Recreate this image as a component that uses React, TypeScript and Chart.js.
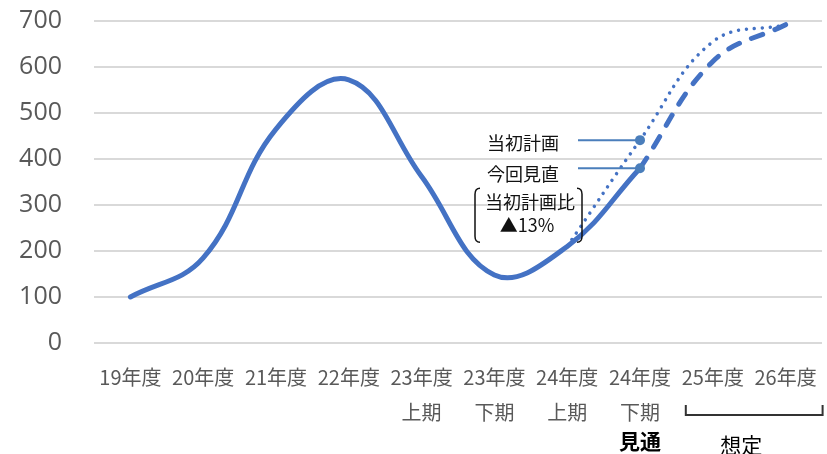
import React, { useEffect, useRef } from 'react';
import { Chart, registerables } from 'chart.js';

Chart.register(...registerables);

const categories: string[][] = [
  ['19年度'], ['20年度'], ['21年度'], ['22年度'],
  ['23年度', '上期'], ['23年度', '下期'], ['24年度', '上期'], ['24年度', '下期'],
  ['25年度'], ['26年度'],
];
const actualValues = [100, 185, 465, 572, 362, 148, 210, 380, null, null];
const revisedValues = [null, null, null, null, null, null, null, 380, 612, 692];
const initialPlanValues = [null, null, null, null, null, null, 210, 441, 655, 692];
const yTickValues = [0, 100, 200, 300, 400, 500, 600, 700];
const leaderLabels = ['当初計画', '今回見直'];
const ratioLabels = ['当初計画比', '▲13%'];
const outlookLabel = '見通';
const assumedLabel = '想定';

const JP = '"Noto Sans CJK JP", "Noto Sans", sans-serif';
const BLUE = '#4472C4';
const LEADER = '#4a7ebb';

const annotationPlugin = {
  id: 'annotations',
  afterDatasetsDraw(chart: any) {
    const { ctx, scales } = chart;
    const xs = scales.x;
    const ys = scales.y;
    const idx = 7;
    const px = xs.getPixelForValue(idx);
    const pPlan = ys.getPixelForValue(initialPlanValues[idx] as number);
    const pRev = ys.getPixelForValue(revisedValues[idx] as number);
    ctx.save();
    [pPlan, pRev].forEach((py) => {
      ctx.strokeStyle = LEADER;
      ctx.lineWidth = 2;
      ctx.beginPath();
      ctx.moveTo(px - 62, py);
      ctx.lineTo(px, py);
      ctx.stroke();
      ctx.fillStyle = LEADER;
      ctx.beginPath();
      ctx.arc(px, py, 5, 0, Math.PI * 2);
      ctx.fill();
    });
    ctx.fillStyle = '#111';
    ctx.font = `18px ${JP}`;
    ctx.textAlign = 'center';
    ctx.textBaseline = 'middle';
    ctx.fillText(leaderLabels[0], px - 117, pPlan + 3);
    ctx.fillText(leaderLabels[1], px - 117, pRev + 6);
    const cx = px - 110;
    const ty = pRev + 34;
    ctx.fillText(ratioLabels[0], cx, ty);
    ctx.fillText(ratioLabels[1], cx - 3, ty + 23);
    ctx.strokeStyle = '#111';
    ctx.lineWidth = 1.5;
    const top = ty - 14;
    const bot = ty + 40;
    const lx = cx - 55;
    const rx = cx + 52;
    ctx.beginPath();
    ctx.moveTo(lx + 5, top);
    ctx.quadraticCurveTo(lx, top, lx, top + 6);
    ctx.lineTo(lx, bot - 6);
    ctx.quadraticCurveTo(lx, bot, lx + 5, bot);
    ctx.moveTo(rx - 5, top);
    ctx.quadraticCurveTo(rx, top, rx, top + 6);
    ctx.lineTo(rx, bot - 6);
    ctx.quadraticCurveTo(rx, bot, rx - 5, bot);
    ctx.stroke();
    const base = chart.chartArea.bottom;
    ctx.fillStyle = '#000';
    ctx.font = `bold 21px ${JP}`;
    ctx.fillText(outlookLabel, px, base + 98);
    const x25 = xs.getPixelForValue(8);
    const x26 = xs.getPixelForValue(9);
    ctx.font = `21px ${JP}`;
    ctx.fillText(assumedLabel, (x25 + x26) / 2 - 8, base + 102);
    ctx.strokeStyle = '#333';
    ctx.lineWidth = 2;
    const bl = x25 - 27;
    const br = x26 + 37;
    const by = base + 72;
    ctx.beginPath();
    ctx.moveTo(bl, by - 10);
    ctx.lineTo(bl, by);
    ctx.lineTo(br, by);
    ctx.lineTo(br, by - 10);
    ctx.stroke();
    ctx.restore();
  },
};

export default function App() {
  const ref = useRef<HTMLCanvasElement | null>(null);
  useEffect(() => {
    document.body.style.margin = '0';
    const chart = new Chart(ref.current as HTMLCanvasElement, {
      type: 'line',
      data: {
        labels: categories,
        datasets: [
          {
            label: '当初計画',
            data: initialPlanValues,
            borderColor: BLUE,
            borderWidth: 3.5,
            borderDash: [0.01, 8],
            borderCapStyle: 'round',
            pointRadius: 0,
            tension: 0.4,
            fill: false,
          },
          {
            label: '今回見直',
            data: revisedValues,
            borderColor: BLUE,
            borderWidth: 5,
            borderDash: [12, 13],
            borderCapStyle: 'round',
            pointRadius: 0,
            tension: 0.4,
            fill: false,
          },
          {
            label: '実績',
            data: actualValues,
            borderColor: BLUE,
            borderWidth: 5,
            borderCapStyle: 'round',
            borderJoinStyle: 'round',
            pointRadius: 0,
            tension: 0.4,
            fill: false,
          },
        ],
      },
      options: {
        animation: false,
        responsive: false,
        layout: { padding: { top: 21, right: 5, left: 0, bottom: 0 } },
        plugins: { legend: { display: false }, tooltip: { enabled: false } },
        scales: {
          x: {
            offset: true,
            grid: { display: false, offset: true },
            border: { display: false },
            ticks: {
              color: '#595959',
              font: { family: JP, size: 20, lineHeight: 1.75 },
              maxRotation: 0,
              autoSkip: false,
              padding: 9,
            },
            afterFit(scale: any) {
              scale.height = 111;
              scale.paddingLeft = 0;
              scale.paddingRight = 0;
            },
          },
          y: {
            min: 0,
            max: 700,
            grid: { color: '#d9d9d9', lineWidth: 2, drawTicks: false },
            border: { display: false },
            afterBuildTicks(scale: any) {
              scale.ticks = yTickValues.map((v) => ({ value: v }));
            },
            ticks: {
              color: '#595959',
              font: { family: '"Open Sans", sans-serif', size: 25 },
              padding: 32,
            },
            afterFit(scale: any) {
              scale.width = 94;
              scale.paddingTop = 0;
              scale.paddingBottom = 0;
            },
          },
        },
      },
      plugins: [annotationPlugin],
    });
    return () => chart.destroy();
  }, []);
  return <canvas ref={ref} width={827} height={454} style={{ display: 'block' }} />;
}
